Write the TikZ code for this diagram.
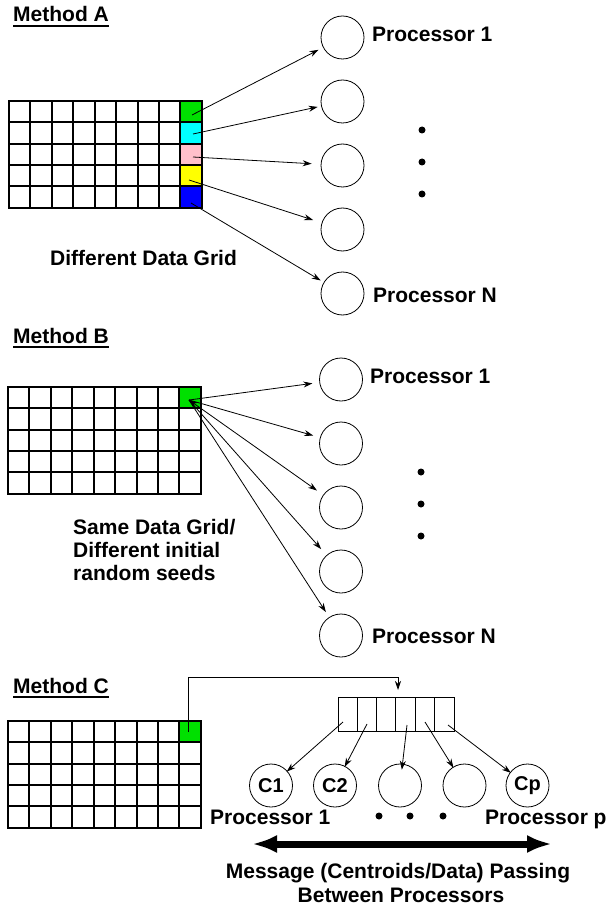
\documentclass[tikz,border=0pt]{standalone}
\usepackage{fontspec}
\setmainfont{Liberation Sans}
\usetikzlibrary{arrows.meta,calc}
\definecolor{cellgreen}{RGB}{0,224,0}
\definecolor{cellcyan}{RGB}{0,255,255}
\definecolor{cellpink}{RGB}{255,192,203}
\definecolor{cellyellow}{RGB}{255,255,0}
\definecolor{cellblue}{RGB}{0,0,255}
\begin{document}
\begin{tikzpicture}[x=1pt,y=-1pt,
  txt/.style={font=\bfseries\fontsize{21}{24}\selectfont, inner sep=0pt, anchor=base west},
  ctxt/.style={font=\bfseries\fontsize{21}{24}\selectfont, inner sep=0pt, anchor=base},
  cirlbl/.style={font=\bfseries\fontsize{20}{24}\selectfont},
  proc/.style={circle, draw, line width=0.8pt, minimum size=43pt, inner sep=0pt},
  gridline/.style={line width=1.2pt},
  arr/.style={line width=0.8pt, -{Stealth[length=9pt,width=6pt]}},
  dot/.style={circle, fill, inner sep=0pt, minimum size=7pt},
  uline/.style={line width=1.4pt},
  % 9 x 5 data grid, drawn from its top-left corner
  datagrid/.pic={
    \foreach \gx in {21,43,64,86,107,129,150,171}
      \draw[gridline] (\gx,0) -- (\gx,107);
    \foreach \gy in {21,43,64,85}
      \draw[gridline] (0,\gy) -- (193,\gy);
    \draw[gridline] (0,0) rectangle (193,107);
  }
]
\useasboundingbox[fill=white] (0,0) rectangle (613,909);

% ---------------- Method A ----------------
\node[txt] (ma) at (13,22) {Method A};
\draw[uline] ([yshift=-4pt]ma.base west) -- ([yshift=-4pt]ma.base east);

\fill[cellgreen]  (180,101) rectangle (202,122);
\fill[cellcyan]   (180,122) rectangle (202,144);
\fill[cellpink]   (180,144) rectangle (202,165);
\fill[cellyellow] (180,165) rectangle (202,186);
\fill[cellblue]   (180,186) rectangle (202,208);
\pic at (9,101) {datagrid};

\coordinate (sa1) at (192,115);
\coordinate (sa2) at (193,134);
\coordinate (sa3) at (193,157);
\coordinate (sa4) at (189,180);
\coordinate (sa5) at (191,203);

\node[proc] (a1) at (342.5,37.5) {};
\node[proc] (a2) at (342.5,101.5) {};
\node[proc] (a3) at (342.5,165.5) {};
\node[proc] (a4) at (342.5,229.5) {};
\node[proc] (a5) at (342.5,293.5) {};

\draw[arr, shorten >=5pt] (sa1) -- (a1);
\draw[arr, shorten >=3.5pt] (sa2) -- (a2);
\draw[arr, shorten >=9pt] (sa3) -- (a3);
\draw[arr, shorten >=9pt] (sa4) -- (a4);
\draw[arr, shorten >=3.5pt] (sa5) -- (a5);

\node[txt] (pa1) at (372,42) {Processor 1};
\node[txt] (paN) at (373,302) {Processor N};
\node[dot] (ad1) at (422,130) {};
\node[dot] (ad2) at (422,162) {};
\node[dot] (ad3) at (422,194) {};
\node[txt] (dg) at (50,265) {Different Data Grid};

% ---------------- Method B ----------------
\node[txt] (mb) at (13,343) {Method B};
\draw[uline] ([yshift=-4pt]mb.base west) -- ([yshift=-4pt]mb.base east);

\fill[cellgreen] (179,387) rectangle (201,408);
\pic at (8,387) {datagrid};

\coordinate (sb) at (189,400);

\node[proc] (b1) at (341,379.5) {};
\node[proc] (b2) at (341,443.5) {};
\node[proc] (b3) at (341,507.5) {};
\node[proc] (b4) at (341,571.5) {};
\node[proc] (b5) at (341,635.5) {};

\draw[arr, shorten >=7pt] (sb) -- (b1);
\draw[arr, shorten >=7pt] (sb) -- (b2);
\draw[arr, {Stealth[length=9pt,width=6pt]}-{Stealth[length=9pt,width=6pt]}, shorten >=7.5pt] (sb) -- (b3);
\draw[arr, shorten >=8pt] (sb) -- (b4);
\draw[arr, shorten >=6pt] (sb) -- (b5);

\node[txt] (pb1) at (370,383) {Processor 1};
\node[txt] (pbN) at (372,643) {Processor N};
\node[dot] (bd1) at (421,472) {};
\node[dot] (bd2) at (421,504) {};
\node[dot] (bd3) at (421,536) {};
\node[txt] (sd1) at (73,534) {Same Data Grid/};
\node[txt] (sd2) at (73,557) {Different initial};
\node[txt] (sd3) at (73,580) {random seeds};

% ---------------- Method C ----------------
\node[txt] (mc) at (13,693) {Method C};
\draw[uline] ([yshift=-4pt]mc.base west) -- ([yshift=-4pt]mc.base east);

\fill[cellgreen] (179,721) rectangle (201,742);
\pic at (8,721) {datagrid};

% shared centroid array
\draw[line width=1pt] (338,697) rectangle (454,731);
\foreach \k in {1,...,5} \draw[line width=1pt] (338+\k*19.33,697) -- (338+\k*19.33,731);

\coordinate (gc) at (188,732);
\coordinate (rail) at (0,677);
\coordinate (arrtop) at (398,690);
\draw[arr] (gc) -- (gc |- rail) -| (arrtop);

\coordinate (q1) at (343,722);
\coordinate (q2) at (367,724);
\coordinate (q4) at (407,725);
\coordinate (q5) at (425,722);
\coordinate (q6) at (448,725);

\node[proc] (c1) at (271,785.5) {};
\node[proc] (c2) at (335,785.5) {};
\node[proc] (c3) at (400,785.5) {};
\node[proc] (c4) at (464.5,785.5) {};
\node[proc] (c5) at (527.5,785.5) {};
\node[cirlbl] at (c1) {C1};
\node[cirlbl] at (c2) {C2};
\node[cirlbl] at (c5) {Cp};

\draw[arr, shorten >=-1pt] (q1) -- (c1);
\draw[arr, shorten >=-1pt] (q2) -- (c2);
\draw[arr, shorten >=-6pt] (q4) -- (c3);
\draw[arr, shorten >=-1pt] (q5) -- (c4);
\draw[arr, shorten >=-1pt] (q6) -- (c5);

\node[txt] (pc1) at (210,824) {Processor 1};
\node[txt] (pcp) at (485,824) {Processor p};
\node[dot] (cd1) at (379,816) {};
\node[dot] (cd2) at (410,816) {};
\node[dot] (cd3) at (443,816) {};

\coordinate (msgL) at (252,844);
\coordinate (msgR) at (552,844);
\draw[line width=7pt, {Latex[length=25pt,width=18pt]}-{Latex[length=25pt,width=18pt]}] (msgL) -- (msgR);

\node[ctxt] (msg1) at (398,878) {Message (Centroids/Data) Passing};
\node[ctxt] (msg2) at (401,902) {Between Processors};
\end{tikzpicture}
\end{document}
